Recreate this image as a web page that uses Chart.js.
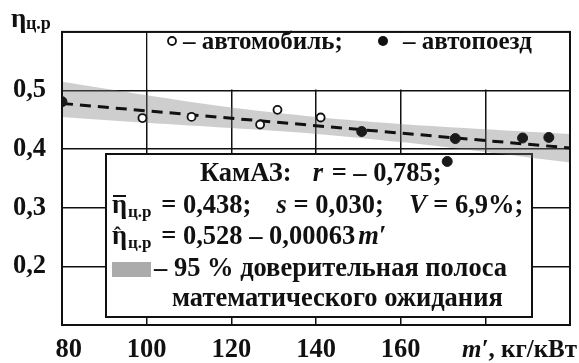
<!DOCTYPE html>
<html>
<head>
<meta charset="utf-8">
<script src="https://cdn.jsdelivr.net/npm/chart.js@4"></script>
<style>
  body { margin: 0; background: #fff; }
</style>
</head>
<body>
<canvas id="myChart" width="579" height="363"></canvas>
<script>
'use strict';

// axis ranges and tick labels
const xMin = 80, xMax = 200, xStep = 20;
const yMin = 0.1, yMax = 0.6, yStep = 0.1;
const xLabelValues = [80, 100, 120, 140, 160];
const yLabelValues = [0.2, 0.3, 0.4, 0.5];

// автомобиль (open circles)
const carX = [99.0, 110.6, 126.8, 130.9, 141.1];
const carY = [0.453, 0.455, 0.442, 0.467, 0.454];

// автопоезд (filled circles)
const trainX = [80, 150.8, 171.0, 172.9, 188.8, 195.0];
const trainY = [0.481, 0.430, 0.379, 0.418, 0.419, 0.420];

// regression line
const trendX = [80, 200];
const trendY = [0.478, 0.402];

// 95% confidence band
const bandX = [80, 100, 120, 140, 160, 180, 200];
const bandUpper = [0.515, 0.492, 0.471, 0.455, 0.443, 0.434, 0.426];
const bandLower = [0.455, 0.445, 0.436, 0.426, 0.412, 0.395, 0.377];

const SERIF = '"Liberation Serif", "Times New Roman", serif';
const B = 'bold 25px ' + SERIF;
const BI = 'italic bold 25px ' + SERIF;
const T = 'bold 26.5px ' + SERIF;     // text in the statistics box
const TI = 'italic bold 26.5px ' + SERIF;
const SUB = 'bold 17px ' + SERIF;

function toPoints(xs, ys) {
  const pts = [];
  for (let i = 0; i < xs.length; i++) {
    pts.push({x: xs[i], y: ys[i]});
  }
  return pts;
}

// draw a row of text pieces one after another
function drawRuns(ctx, x, y, parts) {
  for (let i = 0; i < parts.length; i++) {
    const p = parts[i];
    ctx.font = p.f;
    ctx.fillText(p.t, x, y + (p.dy || 0));
    x += ctx.measureText(p.t).width + (p.gap || 0);
  }
  return x;
}

function eta(ctx, x, y, mark) {
  ctx.font = T;
  ctx.fillText('η', x, y);
  const w = ctx.measureText('η').width;
  if (mark === 'bar') {
    ctx.fillRect(x + 1, y - 18, w - 2, 2);
  } else if (mark === 'hat') {
    ctx.font = 'bold 21px ' + SERIF;
    ctx.fillText('ˆ', x + 2, y - 2);
  }
  ctx.font = SUB;
  ctx.fillText('ц.р', x + w + 1, y + 4);
  return x + w + 1 + ctx.measureText('ц.р').width;
}

const decorPlugin = {
  id: 'decor',
  beforeDatasetsDraw(chart) {
    const ctx = chart.ctx;
    const xs = chart.scales.x, ys = chart.scales.y;
    const area = chart.chartArea;
    ctx.save();
    // blank strip for the top legend
    ctx.fillStyle = '#fff';
    const lx = xs.getPixelForValue(100) + 1;
    const ly = ys.getPixelForValue(0.5) - 1;
    ctx.fillRect(lx, area.top + 1, area.right - lx - 1, ly - area.top - 1);

    ctx.fillStyle = '#111';
    ctx.strokeStyle = '#111';
    ctx.textBaseline = 'alphabetic';
    // top legend
    ctx.beginPath();
    ctx.lineWidth = 1.8;
    ctx.arc(172, 41, 4, 0, Math.PI * 2);
    ctx.fillStyle = '#fff';
    ctx.fill();
    ctx.stroke();
    ctx.fillStyle = '#111';
    drawRuns(ctx, 183, 49, [{t: '– автомобиль;', f: B}]);
    ctx.beginPath();
    ctx.arc(383, 41, 5, 0, Math.PI * 2);
    ctx.fill();
    drawRuns(ctx, 403, 49, [{t: '– автопоезд', f: B}]);

    // statistics box
    const bx = 106, by = 154, bw = 426, bh = 163;
    ctx.fillStyle = '#fff';
    ctx.fillRect(bx, by, bw, bh);
    ctx.lineWidth = 2;
    ctx.strokeRect(bx, by, bw, bh);
    ctx.fillStyle = '#111';

    drawRuns(ctx, 200, 181, [
      {t: 'КамАЗ:  ', f: T, gap: 8}, {t: 'r', f: TI, gap: 2}, {t: ' = – 0,785;', f: T}
    ]);
    let x = eta(ctx, 112, 213, 'bar');
    drawRuns(ctx, x + 3, 213, [
      {t: ' = 0,438;  ', f: T, gap: 12}, {t: 's', f: TI}, {t: ' = 0,030;  ', f: T, gap: 12},
      {t: 'V', f: TI}, {t: ' = 6,9%;', f: T}
    ]);
    x = eta(ctx, 112, 244, 'hat');
    drawRuns(ctx, x + 3, 244, [
      {t: ' = 0,528 – 0,00063', f: T, gap: 3}, {t: 'm′', f: TI}
    ]);
    ctx.fillStyle = 'rgba(150,150,150,0.8)';
    ctx.fillRect(112, 262, 39, 15);
    ctx.fillStyle = '#111';
    drawRuns(ctx, 154, 276, [{t: '– 95 % доверительная полоса', f: T}]);
    drawRuns(ctx, 172, 306, [{t: 'математического ожидания', f: T}]);
    ctx.restore();
  },
  afterDatasetsDraw(chart) {
    const ctx = chart.ctx;
    const area = chart.chartArea;
    ctx.save();
    ctx.strokeStyle = '#111';
    ctx.lineWidth = 2;
    ctx.strokeRect(area.left, area.top, area.right - area.left, area.bottom - area.top);
    ctx.restore();
  },
  afterDraw(chart) {
    const ctx = chart.ctx;
    ctx.save();
    ctx.fillStyle = '#111';
    ctx.textBaseline = 'alphabetic';
    // y axis title
    ctx.font = 'bold 27px ' + SERIF;
    ctx.fillText('η', 11, 27);
    ctx.font = 'bold 18px ' + SERIF;
    ctx.fillText('ц.р', 26, 29);
    // x axis title
    drawRuns(ctx, 462, 357, [{t: 'm′', f: BI}, {t: ', кг/кВт', f: B}]);
    ctx.restore();
  }
};

const data = {
  datasets: [
    {
      label: 'автомобиль',
      data: toPoints(carX, carY),
      pointRadius: 4,
      pointBackgroundColor: '#fff',
      pointBorderColor: '#111',
      pointBorderWidth: 1.8,
      order: 0
    },
    {
      label: 'автопоезд',
      data: toPoints(trainX, trainY),
      pointRadius: 5,
      pointBackgroundColor: '#1a1a1a',
      pointBorderColor: '#1a1a1a',
      pointBorderWidth: 1,
      clip: 0,
      order: 0
    },
    {
      label: 'trend',
      data: toPoints(trendX, trendY),
      showLine: true,
      borderColor: '#111',
      borderWidth: 3,
      borderDash: [11, 7],
      pointRadius: 0,
      order: 1
    },
    {
      label: 'upper',
      data: toPoints(bandX, bandUpper),
      showLine: true,
      borderWidth: 0,
      borderColor: 'rgba(0,0,0,0)',
      pointRadius: 0,
      tension: 0.3,
      fill: '+1',
      backgroundColor: 'rgba(120,120,120,0.36)',
      order: 2
    },
    {
      label: 'lower',
      data: toPoints(bandX, bandLower),
      showLine: true,
      borderWidth: 0,
      borderColor: 'rgba(0,0,0,0)',
      pointRadius: 0,
      tension: 0.3,
      fill: false,
      order: 3
    }
  ]
};

const config = {
  type: 'scatter',
  data: data,
  options: {
    responsive: false,
    devicePixelRatio: 1,
    animation: false,
    events: [],
    layout: { padding: { top: 13, right: 5, left: 0, bottom: 0 } },
    plugins: {
      legend: { display: false },
      tooltip: { enabled: false }
    },
    scales: {
      x: {
        type: 'linear',
        min: xMin,
        max: xMax,
        afterFit(scale) { scale.height = 38; },
        ticks: {
          stepSize: xStep,
          padding: 9,
          color: '#111',
          font: { family: SERIF, size: 26.5, weight: 'bold' },
          maxRotation: 0,
          autoSkip: false,
          callback(v) {
            if (!xLabelValues.includes(v)) return '';
            return v === 80 ? '\u2002' + v : String(v);
          }
        },
        grid: { color: '#111', lineWidth: 1.5, drawTicks: false },
        border: { display: false }
      },
      y: {
        type: 'linear',
        min: yMin,
        max: yMax,
        afterFit(scale) { scale.width = 62; },
        ticks: {
          stepSize: yStep,
          padding: 16,
          color: '#111',
          font: { family: SERIF, size: 26.5, weight: 'bold' },
          callback(v) {
            const r = Math.round(v * 10) / 10;
            if (!yLabelValues.includes(r)) return '';
            return r.toFixed(1).replace('.', ',');
          }
        },
        grid: { color: '#111', lineWidth: 1.5, drawTicks: false },
        border: { display: false }
      }
    }
  },
  plugins: [decorPlugin]
};

let canvasChart = document.getElementById('myChart');
const myChart = new Chart(canvasChart, config);
</script>
</body>
</html>
